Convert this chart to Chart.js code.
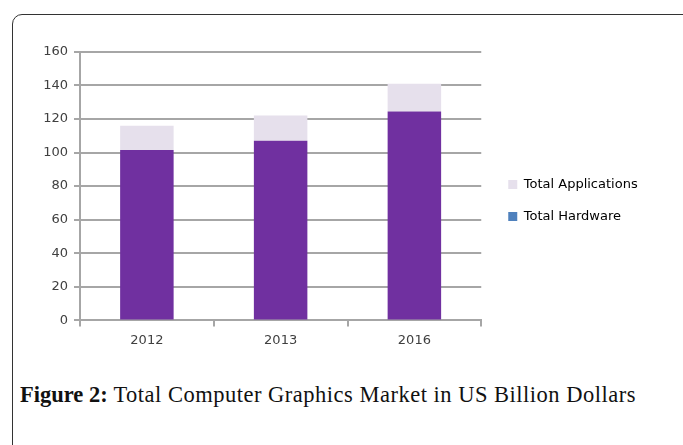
<!DOCTYPE html>
<html>
<head>
<meta charset="utf-8">
<script src="https://cdn.jsdelivr.net/npm/chart.js@4.4.0/dist/chart.umd.min.js"></script>
<style>
  html, body { margin: 0; padding: 0; background: #fff; }
  body { width: 683px; height: 445px; position: relative; overflow: hidden; }
  .card {
    position: absolute; left: 12px; top: 14px; width: 900px; height: 600px;
    border: 1.5px solid #333; border-radius: 10px; box-sizing: border-box;
  }
  #chartBox { position: absolute; left: 20px; top: 38px; width: 660px; height: 316px; }
  .caption {
    position: absolute; left: 20px; top: 382px;
    font-family: "Liberation Serif", serif; font-size: 22.5px; letter-spacing: 0.5px; color: #111;
    white-space: nowrap;
  }
  .caption b { font-weight: bold; letter-spacing: 0; }
</style>
</head>
<body>
<div class="card"></div>
<div id="chartBox"><canvas id="myChart"></canvas></div>
<div class="caption"><b>Figure 2:</b> Total Computer Graphics Market in US Billion Dollars</div>

<script>
// data
const years = ['2012', '2013', '2016'];
const hardware = [101.5, 107, 124.5];
const applications = [14.5, 15, 16.5];
const yTicks = [0, 20, 40, 60, 80, 100, 120, 140, 160];

const purple = '#7030A0';
const lilac = '#E6E0EC';
const legendBlue = '#4F81BD';
const gridGray = '#A6A6A6';
const textGray = '#404040';

// push the legend a bit further from the plot
const legendShift = {
    id: 'legendShift',
    afterLayout: function (chart) {
        chart.legend.left += 8;
        chart.legend.right += 8;
    }
};

const ctx = document.getElementById('myChart').getContext('2d');

var myChart = new Chart(ctx, {
    type: 'bar',
    data: {
        labels: years,
        datasets: [{
            label: 'Total Hardware',
            data: hardware,
            backgroundColor: purple,
            legendColor: legendBlue,
            barPercentage: 0.4,
            categoryPercentage: 1
        }, {
            label: 'Total Applications',
            data: applications,
            backgroundColor: lilac,
            legendColor: lilac,
            barPercentage: 0.4,
            categoryPercentage: 1
        }]
    },
    plugins: [legendShift],
    options: {
        responsive: true,
        maintainAspectRatio: false,
        animation: false,
        layout: { padding: { left: 0, right: 45, top: 9, bottom: 0 } },
        plugins: {
            tooltip: { enabled: false },
            legend: {
                position: 'right',
                reverse: true,
                labels: {
                    boxWidth: 9,
                    boxHeight: 9,
                    padding: 19,
                    color: textGray,
                    font: { family: 'DejaVu Sans', size: 13 },
                    generateLabels: function (chart) {
                        return chart.data.datasets.map(function (ds, i) {
                            return {
                                text: ds.label,
                                fillStyle: ds.legendColor,
                                strokeStyle: ds.legendColor,
                                lineWidth: 0,
                                datasetIndex: i
                            };
                        });
                    }
                }
            }
        },
        scales: {
            x: {
                stacked: true,
                border: { color: gridGray, width: 2 },
                grid: { offset: true, drawOnChartArea: false, color: gridGray, lineWidth: 2, tickLength: 6 },
                ticks: { color: textGray, font: { family: 'DejaVu Sans', size: 13 }, padding: 6 }
            },
            y: {
                stacked: true,
                min: 0,
                max: 160,
                afterBuildTicks: function (axis) {
                    axis.ticks = yTicks.map(function (v) { return { value: v }; });
                },
                afterFit: function (axis) { axis.width = 60; },
                border: { color: gridGray, width: 2 },
                grid: { color: gridGray, lineWidth: 2, tickLength: 6 },
                ticks: { color: textGray, font: { family: 'DejaVu Sans', size: 13 }, padding: 6 }
            }
        }
    }
});
</script>
</body>
</html>
